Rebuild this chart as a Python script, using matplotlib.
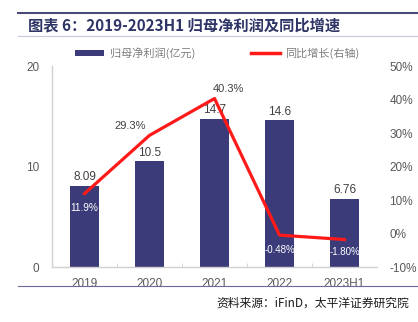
import matplotlib
matplotlib.use('Agg')
import matplotlib.pyplot as plt
from matplotlib.lines import Line2D
from matplotlib.patches import Patch

plt.rcParams['font.family'] = ['Noto Sans CJK SC', 'DejaVu Sans']

# Data
years = ['2019', '2020', '2021', '2022', '2023H1']
profit = [8.09, 10.5, 14.7, 14.6, 6.76]          # 归母净利润 (亿元)
profit_labels = ['8.09', '10.5', '14.7', '14.6', '6.76']
growth = [11.9, 29.3, 40.3, -0.48, -1.80]          # 同比增长 (%)
growth_labels = ['11.9%', '29.3%', '40.3%', '-0.48%', '-1.80%']

navy = '#3B3B7A'
red = '#FF1A1A'
gray = '#595959'
num_font = 'Liberation Sans'

fig = plt.figure(figsize=(4.18, 3.22), dpi=100)
ax = fig.add_axes([0.1244, 0.1708, 0.7776, 0.6242])
ax2 = ax.twinx()

x = list(range(len(years)))
ax.bar(x, profit, width=0.46, color=navy, zorder=2)
ax.set_xlim(-0.5, 4.5)
ax.set_ylim(0, 20)
ax.set_yticks([0, 10, 20])
ax.set_xticks(x)
ax.set_xticklabels(years, family=num_font)
ax.tick_params(axis='x', length=0, pad=8, labelsize=8.5, colors=gray)
ax.tick_params(axis='y', length=0, pad=9, labelsize=8.5, colors=gray)
for t in ax.get_yticklabels():
    t.set_family(num_font)
ax.set_xticks([0.5, 1.5, 2.5, 3.5], minor=True)
ax.tick_params(axis='x', which='minor', length=3, direction='in', color='#D0D0D0')

for s in ['top', 'right']:
    ax.spines[s].set_visible(False)
for s in ['left', 'bottom']:
    ax.spines[s].set_color('#D0D0D0')
    ax.spines[s].set_linewidth(1)

for xi, v, lab in zip(x, profit, profit_labels):
    ax.annotate(lab, (xi, v), xytext=(0, 2), textcoords='offset points',
                ha='center', va='bottom', fontsize=8.5, color='#404040', family=num_font)

ax2.plot(x, growth, color=red, linewidth=2.3, zorder=3)
ax2.set_ylim(-10, 50)
ax2.set_yticks(range(-10, 51, 10))
ax2.set_yticklabels([f'{t}%' for t in range(-10, 51, 10)], family=num_font)
ax2.tick_params(axis='y', length=0, pad=9, labelsize=8.5, colors=gray)
for s in ax2.spines.values():
    s.set_visible(False)

# growth labels (offsets in points, font size, colour)
offsets = [(0, -10, 7.3, 'white'), (-14, 7, 8, '#404040'), (10, 7, 8, '#404040'),
           (0, -11, 7, 'white'), (0, -9, 7, 'white')]
for xi, g, lab, (dx, dy, fs, c) in zip(x, growth, growth_labels, offsets):
    ax2.annotate(lab, (xi, g), xytext=(dx, dy), textcoords='offset points',
                 ha='center', va='center', fontsize=fs, color=c, family=num_font, zorder=4)

# legend
handles = [Patch(facecolor=navy, label='归母净利润(亿元)'),
           Line2D([0], [0], color=red, linewidth=2.5, label='同比增长(右轴)')]
fig.legend(handles=handles, loc='center', bbox_to_anchor=(0.52, 0.835), ncol=2,
           frameon=False, fontsize=8, labelcolor='#7F7F7F', handlelength=2.6,
           handleheight=0.5, columnspacing=5.0, handletextpad=0.5)

# title and decorative lines
fig.add_artist(Line2D([0.042, 1.0], [1 - 13 / 322, 1 - 13 / 322], color='#4A4A7A', linewidth=1.5))
fig.add_artist(Line2D([0.042, 1.0], [1 - 36 / 322, 1 - 36 / 322], color='#C8C8D8', linewidth=0.8))
fig.text(0.067, 1 - 25 / 322, '图表 6：2019-2023H1 归母净利润及同比增速', ha='left', va='center',
         fontsize=11, color='#2E3566', fontweight='bold')
fig.add_artist(Line2D([0.042, 1.0], [1 - 286 / 322, 1 - 286 / 322], color='#6A6A9A', linewidth=0.8))
fig.text(0.98, 1 - 303 / 322, '资料来源：iFinD，太平洋证券研究院', ha='right', va='center',
         fontsize=8.5, color='#1A1A1A', style='italic')

fig.savefig('out.png', dpi=100)
